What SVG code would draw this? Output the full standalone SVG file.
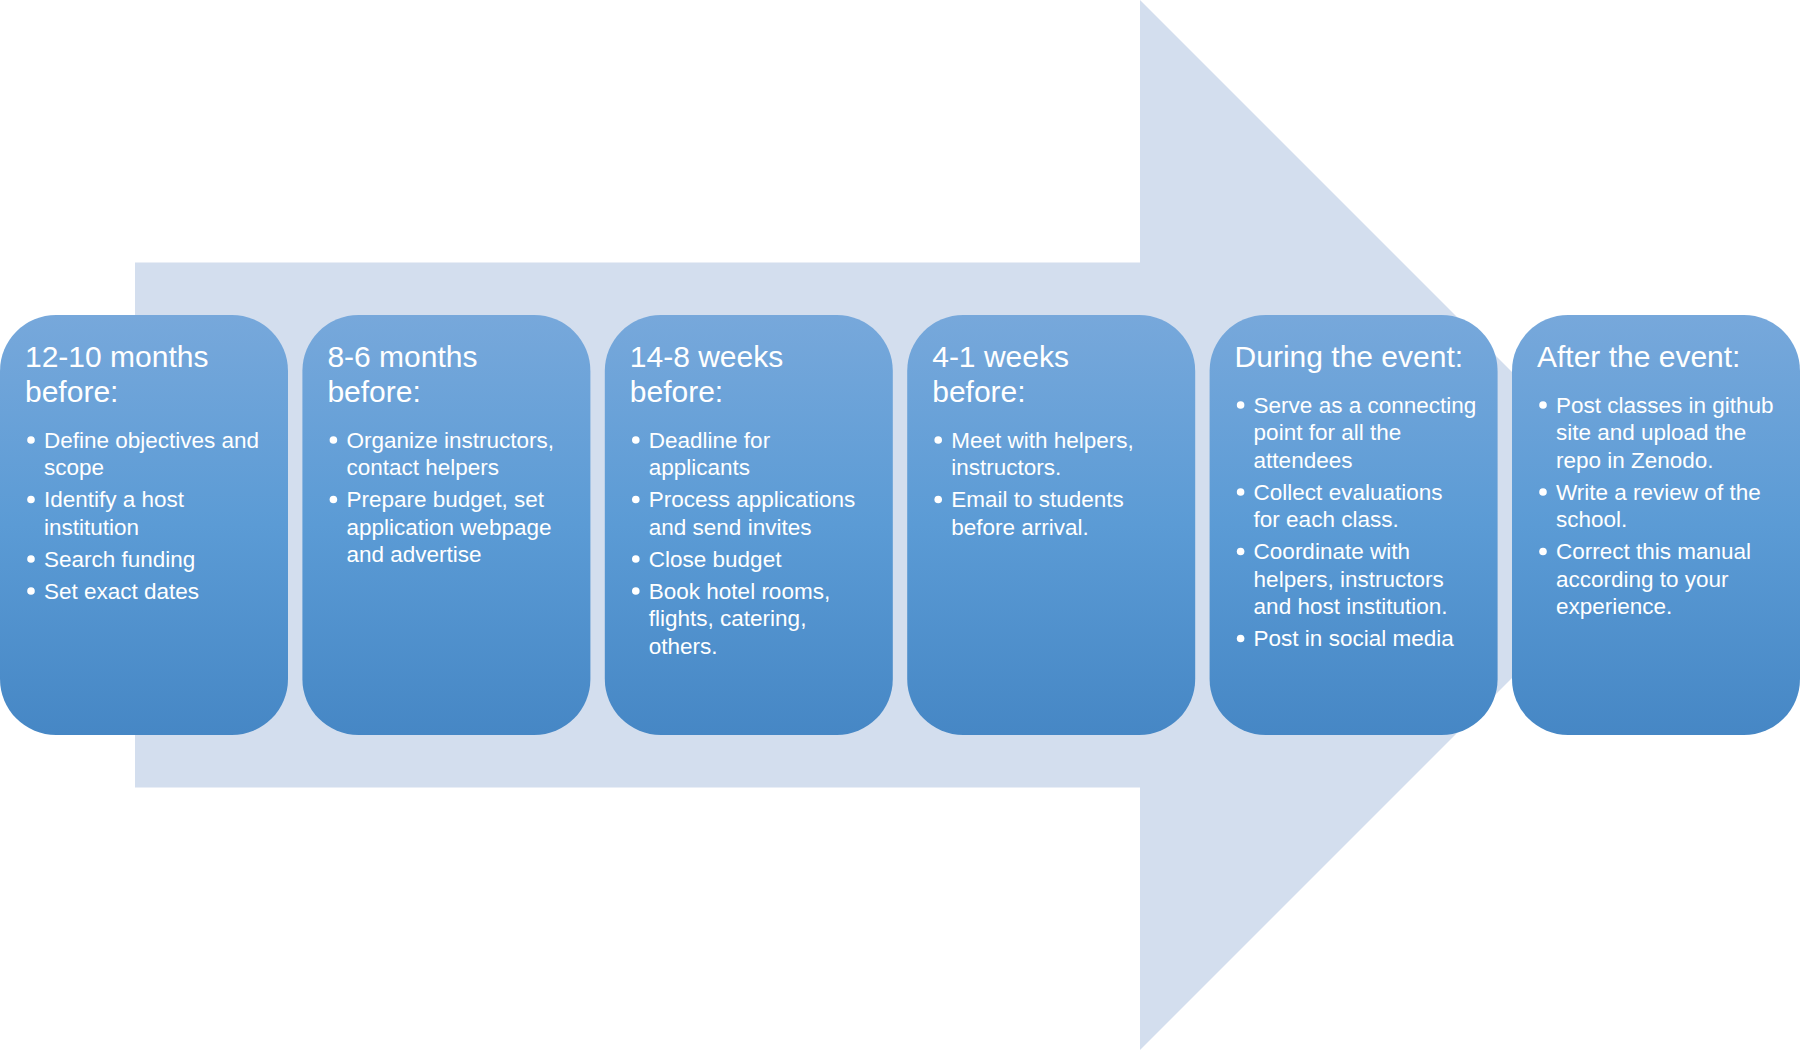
<svg xmlns="http://www.w3.org/2000/svg" width="1800" height="1050" viewBox="0 0 1800 1050">
<defs>
<linearGradient id="boxg" x1="0" y1="0" x2="0" y2="1">
<stop offset="0" stop-color="#77a8db"/>
<stop offset="0.5" stop-color="#5b9bd5"/>
<stop offset="1" stop-color="#4687c5"/>
</linearGradient>
<style>
.box{fill:url(#boxg);}
.h{font-family:"Liberation Sans",Arial,sans-serif;font-size:30px;fill:#ffffff;}
.b{font-family:"Liberation Sans",Arial,sans-serif;font-size:22.5px;fill:#ffffff;}
.dot{fill:#ffffff;}
</style>
</defs>
<rect width="1800" height="1050" fill="#ffffff"/>
<g id="connectors">
<polygon points="135,262.5 1140,262.5 1140,0 1665,525 1140,1050 1140,787.5 135,787.5" fill="#d3deee"/>
</g>
<g id="node1" transform="translate(0,0)">
<rect class="box" x="0" y="315" width="288" height="420" rx="56" ry="56"/>
<text class="h" x="25" y="367">12-10 months</text>
<text class="h" x="25" y="402">before:</text>
<circle class="dot" cx="31" cy="440" r="3.8"/>
<text class="b" x="44" y="447.5">Define objectives and</text>
<text class="b" x="44" y="475">scope</text>
<circle class="dot" cx="31" cy="499.5" r="3.8"/>
<text class="b" x="44" y="507">Identify a host</text>
<text class="b" x="44" y="534.5">institution</text>
<circle class="dot" cx="31" cy="559" r="3.8"/>
<text class="b" x="44" y="566.5">Search funding</text>
<circle class="dot" cx="31" cy="591" r="3.8"/>
<text class="b" x="44" y="598.5">Set exact dates</text>
</g>
<g id="node2" transform="translate(302.4,0)">
<rect class="box" x="0" y="315" width="288" height="420" rx="56" ry="56"/>
<text class="h" x="25" y="367">8-6 months</text>
<text class="h" x="25" y="402">before:</text>
<circle class="dot" cx="31" cy="440" r="3.8"/>
<text class="b" x="44" y="447.5">Organize instructors,</text>
<text class="b" x="44" y="475">contact helpers</text>
<circle class="dot" cx="31" cy="499.5" r="3.8"/>
<text class="b" x="44" y="507">Prepare budget, set</text>
<text class="b" x="44" y="534.5">application webpage</text>
<text class="b" x="44" y="562">and advertise</text>
</g>
<g id="node3" transform="translate(604.8,0)">
<rect class="box" x="0" y="315" width="288" height="420" rx="56" ry="56"/>
<text class="h" x="25" y="367">14-8 weeks</text>
<text class="h" x="25" y="402">before:</text>
<circle class="dot" cx="31" cy="440" r="3.8"/>
<text class="b" x="44" y="447.5">Deadline for</text>
<text class="b" x="44" y="475">applicants</text>
<circle class="dot" cx="31" cy="499.5" r="3.8"/>
<text class="b" x="44" y="507">Process applications</text>
<text class="b" x="44" y="534.5">and send invites</text>
<circle class="dot" cx="31" cy="559" r="3.8"/>
<text class="b" x="44" y="566.5">Close budget</text>
<circle class="dot" cx="31" cy="591" r="3.8"/>
<text class="b" x="44" y="598.5">Book hotel rooms,</text>
<text class="b" x="44" y="626">flights, catering,</text>
<text class="b" x="44" y="653.5">others.</text>
</g>
<g id="node4" transform="translate(907.2,0)">
<rect class="box" x="0" y="315" width="288" height="420" rx="56" ry="56"/>
<text class="h" x="25" y="367">4-1 weeks</text>
<text class="h" x="25" y="402">before:</text>
<circle class="dot" cx="31" cy="440" r="3.8"/>
<text class="b" x="44" y="447.5">Meet with helpers,</text>
<text class="b" x="44" y="475">instructors.</text>
<circle class="dot" cx="31" cy="499.5" r="3.8"/>
<text class="b" x="44" y="507">Email to students</text>
<text class="b" x="44" y="534.5">before arrival.</text>
</g>
<g id="node5" transform="translate(1209.6,0)">
<rect class="box" x="0" y="315" width="288" height="420" rx="56" ry="56"/>
<text class="h" x="25" y="367">During the event:</text>
<circle class="dot" cx="31" cy="405" r="3.8"/>
<text class="b" x="44" y="412.5">Serve as a connecting</text>
<text class="b" x="44" y="440">point for all the</text>
<text class="b" x="44" y="467.5">attendees</text>
<circle class="dot" cx="31" cy="492" r="3.8"/>
<text class="b" x="44" y="499.5">Collect evaluations</text>
<text class="b" x="44" y="527">for each class.</text>
<circle class="dot" cx="31" cy="551.5" r="3.8"/>
<text class="b" x="44" y="559">Coordinate with</text>
<text class="b" x="44" y="586.5">helpers, instructors</text>
<text class="b" x="44" y="614">and host institution.</text>
<circle class="dot" cx="31" cy="638.5" r="3.8"/>
<text class="b" x="44" y="646">Post in social media</text>
</g>
<g id="node6" transform="translate(1512,0)">
<rect class="box" x="0" y="315" width="288" height="420" rx="56" ry="56"/>
<text class="h" x="25" y="367">After the event:</text>
<circle class="dot" cx="31" cy="405" r="3.8"/>
<text class="b" x="44" y="412.5">Post classes in github</text>
<text class="b" x="44" y="440">site and upload the</text>
<text class="b" x="44" y="467.5">repo in Zenodo.</text>
<circle class="dot" cx="31" cy="492" r="3.8"/>
<text class="b" x="44" y="499.5">Write a review of the</text>
<text class="b" x="44" y="527">school.</text>
<circle class="dot" cx="31" cy="551.5" r="3.8"/>
<text class="b" x="44" y="559">Correct this manual</text>
<text class="b" x="44" y="586.5">according to your</text>
<text class="b" x="44" y="614">experience.</text>
</g>
</svg>
